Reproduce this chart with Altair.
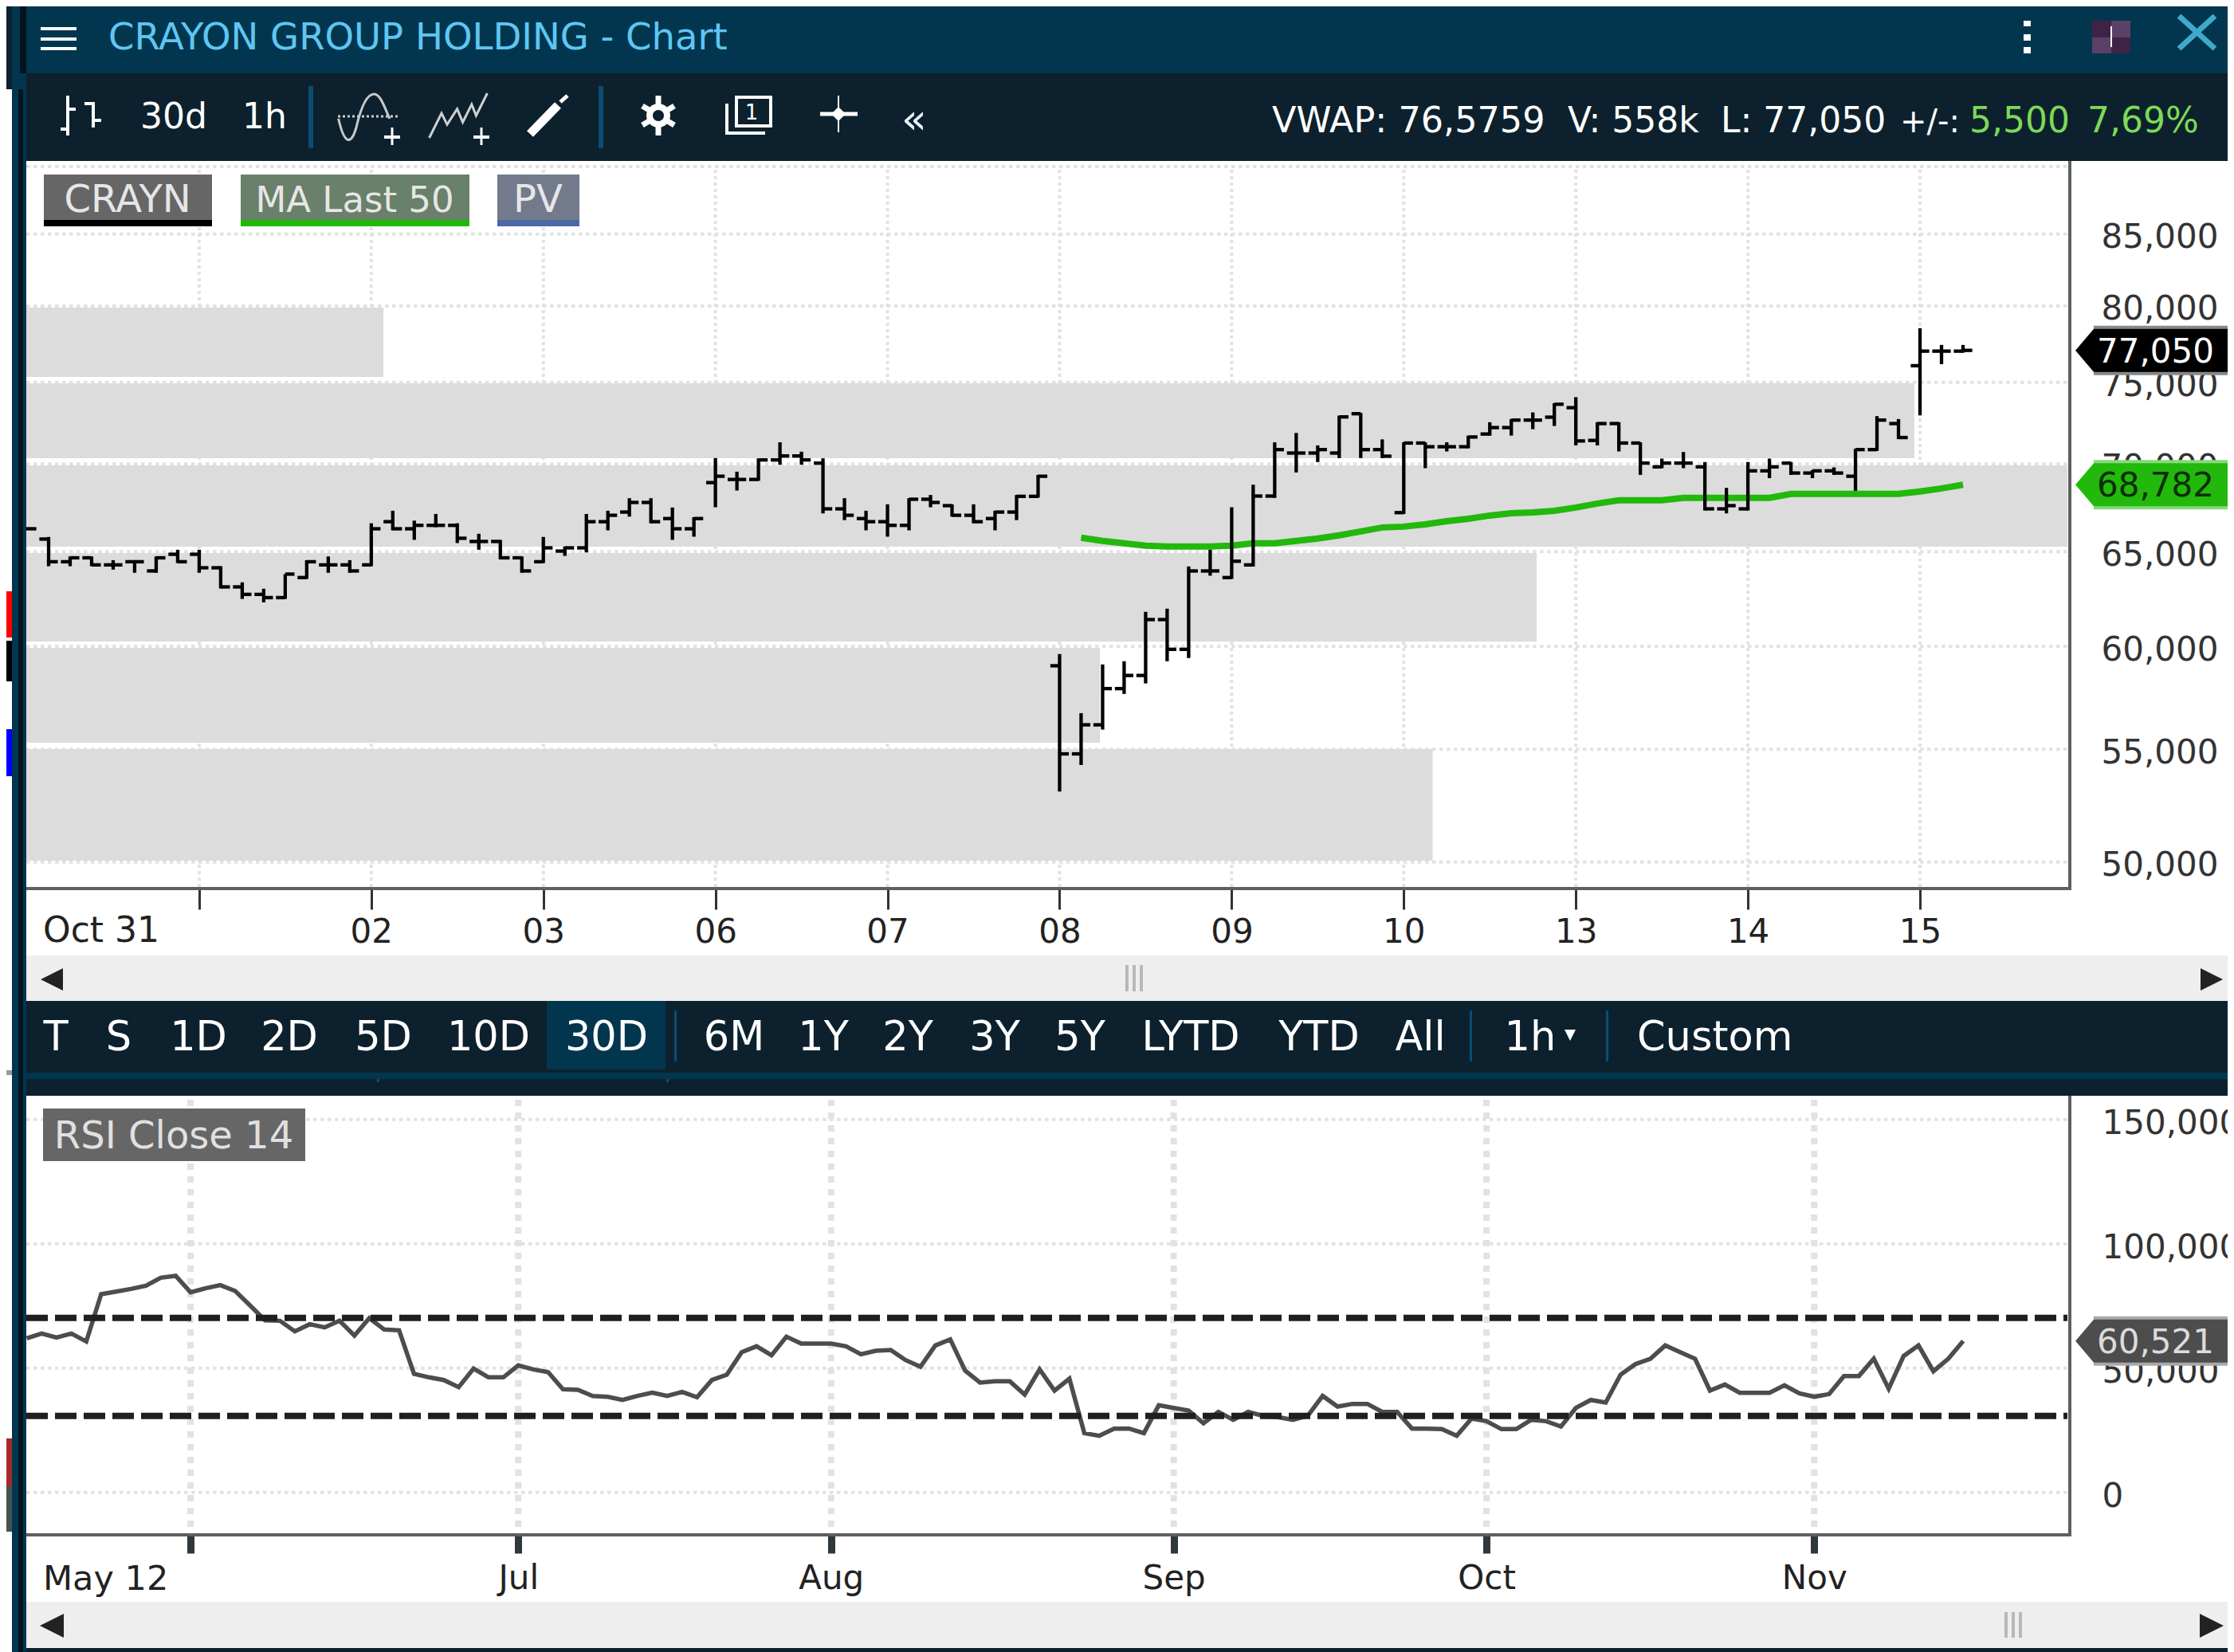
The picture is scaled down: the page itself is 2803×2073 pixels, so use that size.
import altair as alt
import pandas as pd

FONT = "DejaVu Sans"
TEAL = "#02364f"
DARK = "#0c212d"
SCROLL = "#eeeeee"
AXIS = "#5c6060"
GRID = "#e2e2e2"
CHART_W = 2787
CHART_H = 2065

# ---- hourly bars (index, open, high, low, close) ----
opens = [66266,65692,64445,64659,64274,64445,63946,64852,64852,64117,63089,62691,62520,63589,64274,64274,
         64274,66664,66266,66458,66458,65559,65559,64659,64445,65028,65205,66664,67208,67757,66841,66266,
         68902,69086,69086,70236,70472,70047,67391,66841,66664,66458,67940,67574,67025,66841,67208,68108,
         59021,54785,56147,57892,58539,61370,59847,63944,63589,64274,68123,70646,70646,70646,73032,70851,
         67177,71245,71024,71024,71791,72183,72640,72820,73407,71403,72428,71245,69826,70047,69826,67391,
         67391,69590,70047,69462,69590,69274,70851,72428,76057,77000,77000]
highs = [66266,65809,64733,64733,64530,64530,64733,65102,65102,64202,63332,62990,63774,64530,64733,64530,
         66575,67284,66723,67101,66575,65986,65647,64733,65809,65279,67101,67284,68001,68001,67467,66918,
         70346,69542,70330,71292,70725,70330,68001,67284,67650,68001,68185,67650,67650,67284,68185,69353,
         59607,56703,59087,59247,61773,61939,64188,65102,67482,68780,71292,71856,71103,72917,73081,71466,
         71292,71292,71292,71693,72509,72705,73114,73685,74064,72509,72509,71292,70314,70709,70110,68597,
         70110,70314,70110,69637,69795,70898,72885,72705,78506,77404,77404]
lows = [66266,64202,64202,64202,64017,63846,63846,64374,63846,63004,62451,62271,62451,63517,63846,63846,
        64202,66178,65647,66354,65471,65102,64573,63846,64374,64763,64955,66178,66949,66575,65647,65824,
        67482,68444,69009,69952,69952,67132,66752,66178,65824,66178,67482,66949,66575,66178,66752,68032,
        53067,54274,55922,57632,58147,59247,59407,63690,63517,64188,68017,69495,70110,70346,70346,70346,
        67101,69747,70741,70930,71693,71693,72085,72281,71103,71103,70741,69353,69747,69747,67299,67132,
        67299,69162,69353,69162,69353,68429,70772,71482,72930,76158,76900]
closes = [66266,64445,64659,64274,64274,64445,64659,64445,64117,63089,62691,62520,63774,64445,64274,63946,
          66266,66266,66458,66458,65736,65559,64659,63946,65205,65205,66664,67025,67757,66664,66266,66841,
          69274,69086,70236,70472,70236,67391,67025,66664,66458,67940,67757,67025,66664,67208,68108,69274,
          54785,56147,57892,58539,61370,59847,63944,63946,64473,68123,70851,70646,70851,72836,70851,70457,
          71245,71024,71024,71611,72183,72640,72640,73620,71371,72428,71245,70047,70047,70047,67391,67574,
          69590,69826,69462,69590,69462,70851,72640,71578,77000,77000,77050]

# ---- 50-period moving average, bars 49 to 90 ----
ma_first_bar = 49
ma_values = [65765,65588,65456,65323,65279,65279,65279,65323,65456,65456,65588,65721,65898,66119,66340,66384,
             66516,66693,66826,67012,67145,67191,67282,67467,67695,67879,67879,67879,68017,68017,68017,68017,
             68017,68246,68246,68246,68246,68246,68246,68384,68567,68782]

# ---- price-volume profile ----
band_low = [50057,55304,60244,65269,70335,75341]
band_high = [55007,59920,64918,69910,74936,79888]
band_volume = [68.9,52.6,74.0,100.0,92.5,17.5]

# ---- RSI, daily ----
rsi_values = [61.66,63.61,61.99,63.61,60.36,79.66,80.74,81.82,83.12,86.38,87.13,80.41,82.04,83.34,80.96,75.00,
              69.03,68.81,64.48,67.41,66.10,68.81,62.74,69.90,65.24,64.91,47.13,45.73,44.64,41.71,49.30,45.73,
              45.73,50.60,48.98,47.89,40.85,40.63,38.14,37.81,36.51,38.14,39.44,38.14,39.76,37.60,44.64,46.81,
              56.02,58.41,54.72,62.31,59.49,59.49,59.49,58.41,55.16,56.57,56.89,52.77,50.06,58.73,61.23,48.44,
              43.56,44.10,44.10,38.68,48.98,40.31,45.18,22.96,21.88,24.80,24.80,22.96,34.34,33.26,32.18,26.97,
              31.63,28.38,31.63,30.01,29.47,28.38,30.01,38.14,33.80,34.89,34.89,31.63,31.63,24.80,24.80,24.59,
              21.88,28.92,27.84,24.59,24.59,28.38,27.84,25.67,33.26,36.50,35.43,46.81,51.15,53.31,58.73,56.02,
              53.31,40.31,42.80,39.44,39.44,39.44,42.47,39.22,37.81,38.90,46.27,46.27,53.31,41.06,54.40,58.73,
              48.22,53.31,60.52]
rsi_levels = [30, 70]

# ---- axes ----
price_ticks = [50000,55000,60000,65000,70000,75000,80000,85000]
price_grid = price_ticks + [90000]
hour_ticks = [8,16,24,32,40,48,56,64,72,80,88]
hour_labels = ["","02","03","06","07","08","09","10","13","14","15"]
volume_ticks = [0,50000,100000,150000]
day_ticks = [11,33,54,77,98,120]
day_labels_shown = ["","Jul","Aug","Sep","Oct","Nov"]

bottom_buttons = [("T",70),("S",149),("1D",249),("2D",363),("5D",481),("10D",613),("30D",761),("6M",921),
                  ("1Y",1033),("2Y",1139),("3Y",1248),("5Y",1355),("LYTD",1494),("YTD",1655),("All",1782),("1h",1920)]


def cx(v):
    return v - 8


def cy(v):
    return v - 8


# ---- scales ----
x_hour = alt.Scale(domain=[0, 90], range=[cx(34), cx(2463)])
x_vol = alt.Scale(domain=[0, 100], range=[cx(33), cx(2594)])
x_day = alt.Scale(domain=[0, 130], range=[cx(33.5), cx(2463.2)])
y_price = alt.Scale(type="log", domain=[50000, 90000], range=[cy(1081.7), cy(209)])
y_rsi = alt.Scale(domain=[30, 70], range=[cy(1776.7), cy(1653.7)])
y_volume = alt.Scale(domain=[0, 150000], range=[cy(1872.7), cy(1404.7)])


# ---- chrome helpers ----
def rect(x1, y1, x2, y2, color):
    return alt.Chart().mark_rect(color=color, strokeWidth=0).encode(
        x=alt.value(cx(x1)), x2=alt.value(cx(x2)), y=alt.value(cy(y1)), y2=alt.value(cy(y2)))


def seg(x1, y1, x2, y2, color="#ffffff", w=3, dash=None):
    kw = {"strokeDash": dash} if dash else {}
    return alt.Chart().mark_rule(color=color, strokeWidth=w, **kw).encode(
        x=alt.value(cx(x1)), x2=alt.value(cx(x2)), y=alt.value(cy(y1)), y2=alt.value(cy(y2)))


def label(text, x, y, size=44, color="#ffffff", align="left", weight="normal"):
    return alt.Chart().mark_text(text=text, font=FONT, fontSize=size, color=color, align=align,
                                 baseline="alphabetic", fontWeight=weight).encode(
        x=alt.value(cx(x)), y=alt.value(cy(y)))


def glyph(path, x, y, unit, fill=None, stroke=None, w=3):
    kw = {"shape": path, "size": (2 * unit) ** 2, "opacity": 1}
    if fill:
        kw.update(filled=True, fill=fill, strokeWidth=0)
    else:
        kw.update(filled=False, stroke=stroke, strokeWidth=w, fillOpacity=0)
    return alt.Chart().mark_point(**kw).encode(x=alt.value(cx(x)), y=alt.value(cy(y)))


# ---- data tables ----
bars = pd.DataFrame({"i": range(len(opens)), "o": opens, "h": highs, "l": lows, "c": closes})
bars["il"] = bars["i"] - 0.43
bars["ir"] = bars["i"] + 0.43
ma = pd.DataFrame({"i": range(ma_first_bar, ma_first_bar + len(ma_values)), "v": ma_values})
bands = pd.DataFrame({"low": band_low, "high": band_high, "v0": 0, "v": band_volume})
rsi = pd.DataFrame({"k": range(len(rsi_values)), "v": rsi_values})

noaxis = dict(axis=None)
price = lambda f: alt.Y(f, type="quantitative", scale=y_price, **noaxis)
hour = lambda f: alt.X(f, type="quantitative", scale=x_hour, **noaxis)

hour_expr = "{" + ",".join(f"'{v}':'{t}'" for v, t in zip(hour_ticks, hour_labels)) + "}[datum.value]"
day_expr = "{" + ",".join(f"'{v}':'{t}'" for v, t in zip(day_ticks, day_labels_shown)) + "}[datum.value]"

# upper panel
top_grid_y = alt.Chart(pd.DataFrame({"p": price_grid})).mark_rule(color=GRID, strokeWidth=4, strokeDash=[4.5, 4.5]).encode(
    y=alt.Y("p:Q", scale=y_price, axis=alt.Axis(
        orient="right", values=price_ticks, format=",d", title=None, grid=False, domain=False, ticks=False,
        labelFont=FONT, labelFontSize=42, labelColor="#333333", labelPadding=0, labelOffset=4,
        offset=cx(2636) - CHART_W, labelOverlap=False, labelFlush=False)),
    x=alt.value(cx(33)), x2=alt.value(cx(2594)))

top_grid_x = alt.Chart(pd.DataFrame({"t": hour_ticks})).mark_rule(color=GRID, strokeWidth=4, strokeDash=[4, 4]).encode(
    x=alt.X("t:Q", scale=x_hour, axis=alt.Axis(
        orient="bottom", values=hour_ticks, labelExpr=hour_expr, title=None, grid=False, domain=False,
        tickSize=26, tickWidth=3, tickColor="#333333", labelFont=FONT, labelFontSize=42, labelColor="#222222",
        labelPadding=8, offset=cy(1115) - CHART_H, labelOverlap=False, labelFlush=False)),
    y=alt.value(cy(213)), y2=alt.value(cy(1115)))

band_layer = alt.Chart(bands).mark_rect(color="#dcdcdc", strokeWidth=0).encode(
    x=alt.X("v0:Q", scale=x_vol, axis=None), x2="v:Q",
    y=alt.Y("low:Q", scale=y_price, axis=None), y2="high:Q")

ma_layer = alt.Chart(ma).mark_line(color="#22b80c", strokeWidth=8).encode(x=hour("i"), y=price("v"))

stems = alt.Chart(bars).mark_rule(color="#000000", strokeWidth=4.3).encode(x=hour("i"), y=price("l"), y2="h:Q")
open_ticks = alt.Chart(bars).mark_rule(color="#000000", strokeWidth=4.3).encode(x=hour("il"), x2="i:Q", y=price("o"))
close_ticks = alt.Chart(bars).mark_rule(color="#000000", strokeWidth=4.3).encode(x=hour("i"), x2="ir:Q", y=price("c"))

# lower panel
low_grid_y = alt.Chart(pd.DataFrame({"v": volume_ticks})).mark_rule(color=GRID, strokeWidth=4, strokeDash=[4.5, 4.5]).encode(
    y=alt.Y("v:Q", scale=y_volume, axis=alt.Axis(
        orient="right", values=volume_ticks, format=",d", title=None, grid=False, domain=False, ticks=False,
        labelFont=FONT, labelFontSize=42, labelColor="#333333", labelPadding=0, labelOffset=5,
        offset=cx(2637) - CHART_W, labelOverlap=False, labelFlush=False)),
    x=alt.value(cx(33)), x2=alt.value(cx(2594)))

low_grid_x = alt.Chart(pd.DataFrame({"t": day_ticks})).mark_rule(color=GRID, strokeWidth=8, strokeDash=[8, 8]).encode(
    x=alt.X("t:Q", scale=x_day, axis=alt.Axis(
        orient="bottom", values=day_ticks, labelExpr=day_expr, title=None, grid=False, domain=False,
        tickSize=23, tickWidth=9, tickColor="#30383c", labelFont=FONT, labelFontSize=42, labelColor="#222222",
        labelPadding=11, offset=cy(1926) - CHART_H, labelOverlap=False, labelFlush=False)),
    y=alt.value(cy(1380)), y2=alt.value(cy(1926)))

rsi_line = alt.Chart(rsi).mark_line(color="#4d4d4d", strokeWidth=5.5).encode(
    x=alt.X("k:Q", scale=x_day, axis=None), y=alt.Y("v:Q", scale=y_rsi, axis=None))

rsi_rules = alt.Chart(pd.DataFrame({"v": rsi_levels})).mark_rule(
    color="#1f1f1f", strokeWidth=8, strokeDash=[27, 9]).encode(
    y=alt.Y("v:Q", scale=y_rsi, axis=None), x=alt.value(cx(33)), x2=alt.value(cx(2594)))


# value tags
TAG = "M-0.85,0 L0,-1 L6.5,-1 L6.5,1 L0,1 Z"
EDGE = "M0,-1 L6,-1 L6,1 L0,1 Z"


def tag(value, text, y_field_scale, fill, edge, ink):
    d = pd.DataFrame({"p": [value], "t": [text]})
    enc_y = alt.Y("p:Q", scale=y_field_scale, axis=None)
    under = alt.Chart(d).mark_point(shape=EDGE, size=(2 * 31) ** 2, filled=True, fill=edge, strokeWidth=0, opacity=1).encode(
        x=alt.value(cx(2627)), y=enc_y)
    over = alt.Chart(d).mark_point(shape=TAG, size=(2 * 27) ** 2, filled=True, fill=fill, strokeWidth=0, opacity=1).encode(
        x=alt.value(cx(2627)), y=enc_y)
    txt = alt.Chart(d).mark_text(font=FONT, fontSize=42, color=ink, align="left", baseline="middle", dy=2).encode(
        x=alt.value(cx(2631)), y=enc_y, text="t:N")
    return [under, over, txt]


# ---- window chrome ----
chrome = [
    rect(33, 0, 2811, 92, TEAL),
    rect(33, 92, 2811, 202, DARK),
    rect(33, 1199, 2811, 1256, SCROLL),
    rect(33, 1256, 2811, 1375, DARK),
    rect(686, 1256, 835, 1342, TEAL),
    rect(33, 1346, 2811, 1354, TEAL),
    rect(33, 2010, 2811, 2068, SCROLL),
    rect(33, 2068, 2811, 2081, DARK),
    # frame of both panels
    rect(2595, 202, 2599, 1117, AXIS),
    rect(33, 1113, 2599, 1117, AXIS),
    rect(2595, 1375, 2599, 1928, AXIS),
    rect(33, 1924, 2599, 1928, AXIS),
    # left edge
    rect(0, 0, 16, 112, DARK),
    rect(15, 0, 33, 2081, TEAL),
    rect(23, 112, 29, 2081, "#05141c"),
    rect(25, 0, 33, 92, "#05141c"),
    rect(0, 742, 15, 800, "#ff0000"),
    rect(0, 804, 15, 855, "#000000"),
    rect(0, 915, 15, 974, "#0000ff"),
    rect(0, 1805, 15, 1865, "#a52a2a"),
    rect(0, 1865, 15, 1922, "#455252"),
    rect(0, 1343, 15, 1349, "#999999"),
    # legend chips
    rect(55, 219, 266, 276, "#666666"),
    rect(55, 276, 266, 284, "#000000"),
    rect(302, 219, 589, 276, "#69806a"),
    rect(302, 276, 589, 284, "#22b80c"),
    rect(624, 219, 727, 276, "#737a8c"),
    rect(624, 276, 727, 284, "#4a68a5"),
    rect(54, 1391, 383, 1457, "#666666"),
]

toolbar_sep = "#0b4d72"
icons = [
    # hamburger
    rect(51, 34, 96, 38, "#ffffff"), rect(51, 47, 96, 51, "#ffffff"), rect(51, 59, 96, 63, "#ffffff"),
    # three dots
    rect(2539, 26, 2548, 33, "#ffffff"), rect(2539, 43, 2548, 51, "#ffffff"), rect(2539, 59, 2548, 67, "#ffffff"),
    # window button
    rect(2625, 26, 2649, 47, "#3f2347"), rect(2649, 26, 2673, 47, "#5c4166"),
    rect(2625, 47, 2649, 67, "#5c4166"), rect(2649, 47, 2673, 67, "#3f2347"),
    seg(2649, 33, 2649, 59, "#ffffff", 2),
    # close
    seg(2734, 20, 2779, 61, "#3fa9cb", 7), seg(2779, 20, 2734, 61, "#3fa9cb", 7),
    # bar-style icon
    seg(85, 120, 85, 170, w=4), seg(76, 162, 85, 162, w=4), seg(85, 137, 95, 137, w=4),
    seg(117, 128, 117, 160, w=4), seg(106, 130, 117, 130, w=4), seg(117, 151, 127, 151, w=4),
    # separators
    rect(387, 108, 393, 186, toolbar_sep), rect(751, 108, 757, 186, toolbar_sep),
    # indicator icon
    seg(424, 146, 500, 146, "#cccccc", 3, [3, 3]),
    glyph("M-1.3,0.1 C-1,1.4 -0.7,1.2 -0.5,0.5 C-0.2,-0.8 0.1,-1 0.3,-1 C0.6,-1 0.8,-0.3 1,0.1", 461, 146, 28,
          stroke="#c8c8c8", w=3),
    seg(492, 160, 492, 182, w=3), seg(482, 172, 502, 172, w=4),
    # line icon
    glyph("M-1.3,1 L-0.75,-0.1 L-0.5,0.4 L-0.05,-0.3 L0.2,0.3 L0.6,-0.5 L0.8,0 L1.3,-1", 575, 145, 28,
          stroke="#d0d0d0", w=3),
    seg(604, 160, 604, 182, w=3), seg(594, 172, 614, 172, w=4),
    # pencil
    seg(665, 168, 700, 132, w=11), seg(703, 128, 712, 120, w=5),
    # gear
    seg(826, 120, 826, 170, w=7),
    seg(806, 133, 846, 157, w=7), seg(846, 133, 806, 157, w=7),
    glyph("M-1,0 A1,1 0 1,1 1,0 A1,1 0 1,1 -1,0 Z", 826, 145, 15, fill="#ffffff"),
    glyph("M-1,0 A1,1 0 1,1 1,0 A1,1 0 1,1 -1,0 Z", 826, 145, 7, fill=DARK),
    # layout icon
    seg(922, 122, 969, 122, w=4), seg(922, 158, 969, 158, w=4), seg(924, 121, 924, 158, w=4), seg(967, 121, 967, 158, w=4),
    seg(912, 130, 912, 169, w=4), seg(911, 167, 960, 167, w=4),
    label("1", 943, 150, size=26, align="center"),
    # crosshair
    seg(1052, 120, 1052, 166, w=2), seg(1029, 143, 1076, 143, w=5),
    glyph("M0,-1 L1,0 L0,1 L-1,0 Z", 1052, 143, 9, fill="#ffffff"),
    # separators of the lower toolbar
    rect(846, 1268, 849, 1332, toolbar_sep), rect(1844, 1268, 1847, 1332, toolbar_sep), rect(2015, 1268, 2018, 1332, toolbar_sep),
    rect(473, 1354, 476, 1358, "#0b4d72"), rect(836, 1354, 839, 1358, "#0b4d72"),
    # scroll bars
    glyph("M1,-1 L-1,0 L1,1 Z", 65, 1229, 14, fill="#222222"),
    glyph("M-1,-1 L1,0 L-1,1 Z", 2775, 1229, 14, fill="#222222"),
    seg(1414, 1211, 1414, 1244, "#b8b8b8", 4), seg(1423, 1211, 1423, 1244, "#b8b8b8", 4), seg(1432, 1211, 1432, 1244, "#b8b8b8", 4),
    glyph("M1,-1 L-1,0 L1,1 Z", 65, 2040, 15, fill="#222222"),
    glyph("M-1,-1 L1,0 L-1,1 Z", 2775, 2040, 15, fill="#222222"),
    seg(2517, 2023, 2517, 2055, "#b8b8b8", 4), seg(2526, 2023, 2526, 2055, "#b8b8b8", 4), seg(2535, 2023, 2535, 2055, "#b8b8b8", 4),
    glyph("M-1,-1 L1,-1 L0,1 Z", 1970, 1299, 7, fill="#ffffff"),
]

texts = [
    label("CRAYON GROUP HOLDING - Chart", 136, 62, size=46.5, color="#5fc6f2"),
    label("30d", 176, 161, size=44),
    label("1h", 304, 161, size=44),
    label("«", 1147, 167, size=52, color="#e8f4fa", align="center"),
    label("VWAP: 76,5759", 1596, 166, size=44.5),
    label("V: 558k", 1967, 166),
    label("L: 77,050", 2159, 166),
    label("+/-:", 2384, 166, size=40),
    label("5,500", 2471, 166, color="#7ed957"),
    label("7,69%", 2619, 166, color="#7ed957"),
    label("CRAYN", 160, 266, size=48, color="#e6e6e6", align="center"),
    label("MA Last 50", 445, 266, size=45, color="#e6e6e6", align="center"),
    label("PV", 675, 266, size=48, color="#e6e6e6", align="center"),
    label("RSI Close 14", 218, 1441, size=48, color="#e0e0e0", align="center"),
    label("Oct 31", 54, 1182, size=44, color="#222222"),
    label("May 12", 54, 1995, size=43, color="#222222"),
    label("Custom", 2054, 1318, size=51),
] + [label(t, x, 1318, size=51, align="center") for t, x in bottom_buttons]

layers = [
    top_grid_y, top_grid_x, band_layer, ma_layer, stems, open_ticks, close_ticks,
    low_grid_y, low_grid_x, rsi_line, rsi_rules,
] + chrome + icons + texts \
  + tag(77050, "77,050", y_price, "#000000", "#888888", "#ffffff") \
  + tag(68782, "68,782", y_price, "#22b80c", "#86d97a", "#0b2e08") \
  + tag(60.521, "60,521", y_rsi, "#4d4d4d", "#a8a8a8", "#dcdcdc")

chart = alt.layer(*layers).resolve_scale(x="independent", y="independent").properties(
    width=CHART_W, height=CHART_H, padding=0, autosize=alt.AutoSizeParams(type="none"), background="#ffffff"
).configure_view(stroke=None)

chart.save("out.html", embed_options={"renderer": "svg", "actions": False})
